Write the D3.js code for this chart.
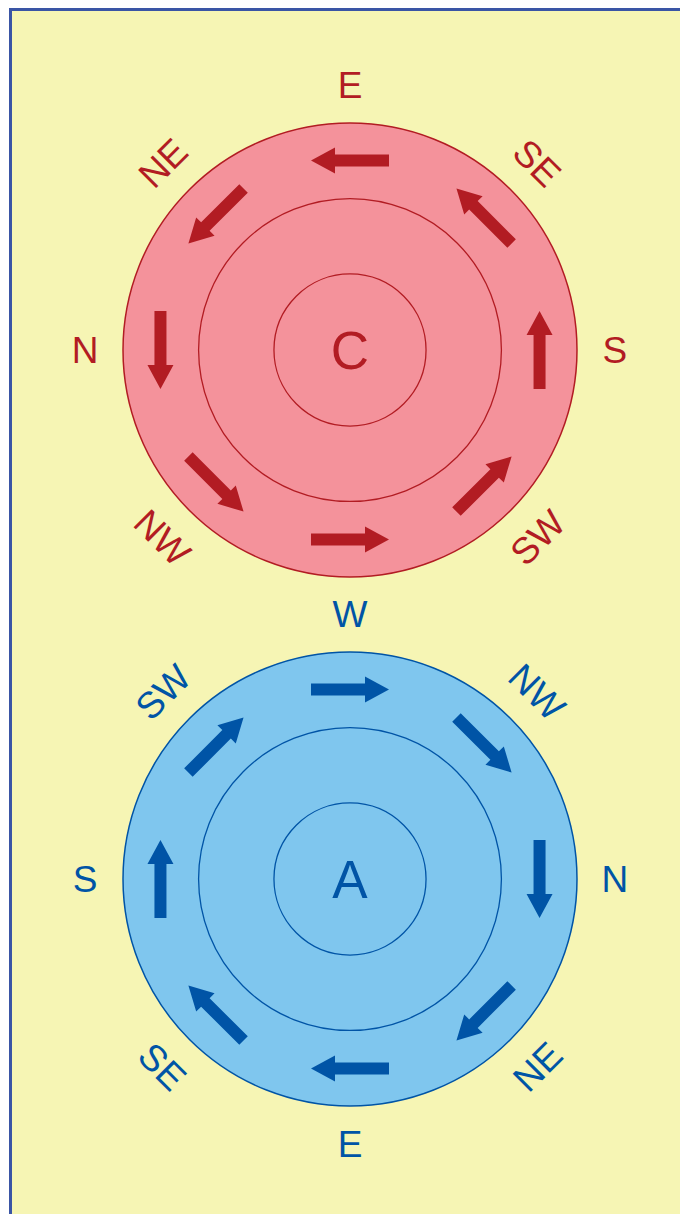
<!DOCTYPE html>
<html>
<head>
<meta charset="utf-8">
<script src="https://cdn.jsdelivr.net/npm/d3@7"></script>
<style>
  body { margin: 0; background: #fff; }
  svg { display: block; }
  text { font-family: "Liberation Sans", Arial, sans-serif; }
</style>
</head>
<body>
<div class="vizHolder"></div>
<script>
var width = 680,
    height = 1214;

// circle names and their compass labels, clockwise from the top (null = no label)
var systems = ["C", "A"];
var redLabels = ["E", "SE", "S", "SW", null, "NW", "N", "NE"];
var blueLabels = ["W", "NW", "N", "NE", "E", "SE", "S", "SW"];
// arrow slots, clockwise from the top; flow direction -1 = anticlockwise, 1 = clockwise
var arrowSlots = [0, 1, 2, 3, 4, 5, 6, 7];
var flow = [-1, 1];
// ring radii as fractions of the outer ring
var rings = [1, 0.667, 0.335];

var styles = [
  {fill: "#f4929b", dark: "#b21c23", labels: redLabels, cy: 350},
  {fill: "#7fc6ee", dark: "#0054a6", labels: blueLabels, cy: 879}
];

var svg = d3.select('.vizHolder')
            .append('svg')
            .attr('width', width)
            .attr('height', height);

// background + frame
svg.append('rect')
   .attr('x', 10).attr('y', 9)
   .attr('width', width - 10).attr('height', height - 9)
   .attr('fill', '#f6f5b4');
svg.append('path')
   .attr('d', 'M10.5,' + height + 'V9.5H' + width)
   .attr('fill', 'none')
   .attr('stroke', '#3a55a5')
   .attr('stroke-width', 3);

var angle = d3.scaleLinear().domain([0, 8]).range([0, 360]);
var radius = d3.scaleLinear().domain([0, 1]).range([0, 227]);

function polar(deg, r) {
  var a = deg * Math.PI / 180;
  return [r * Math.sin(a), -r * Math.cos(a)];
}

// arrow pointing right, centred on the origin
var arrowShape = d3.line()([[-39, -6], [15, -6], [15, -13], [39, 0], [15, 13], [15, 6], [-39, 6]]) + 'Z';

systems.forEach(function(name, i) {
  var st = styles[i];
  var g = svg.append('g').attr('transform', 'translate(350,' + st.cy + ')');

  g.selectAll('circle.ring')
   .data(rings)
   .enter().append('circle')
   .attr('class', 'ring')
   .attr('r', function(d){ return radius(d); })
   .attr('fill', function(d, j){ return j == 0 ? st.fill : 'none'; })
   .attr('stroke', st.dark)
   .attr('stroke-width', function(d, j){ return j == 0 ? 1.5 : 1.3; });

  g.append('text')
   .attr('text-anchor', 'middle')
   .attr('dy', '0.36em')
   .attr('font-size', 53)
   .attr('fill', st.dark)
   .text(name);

  g.selectAll('path.arrow')
   .data(arrowSlots)
   .enter().append('path')
   .attr('class', 'arrow')
   .attr('d', arrowShape)
   .attr('fill', st.dark)
   .attr('transform', function(d){
     var a = angle(d), p = polar(a, radius(0.835));
     // tangent direction: clockwise heading = a (0 = pointing right at the top)
     var rot = flow[i] > 0 ? a : a + 180;
     return 'translate(' + p[0] + ',' + p[1] + ') rotate(' + rot + ')';
   });

  g.selectAll('text.dir')
   .data(st.labels.map(function(l, k){ return {label: l, k: k}; })
                  .filter(function(d){ return d.label; }))
   .enter().append('text')
   .attr('class', 'dir')
   .attr('text-anchor', 'middle')
   .attr('dy', '0.36em')
   .attr('font-size', 37)
   .attr('fill', st.dark)
   .attr('transform', function(d){
     var a = angle(d.k), p = polar(a, radius(1.167));
     var rot = (d.k % 2) ? (a % 180 == 45 ? 45 : -45) : 0;
     return 'translate(' + p[0] + ',' + p[1] + ') rotate(' + rot + ')';
   })
   .text(function(d){ return d.label; });
});

// the blue circle's top label sits between both circles, drawn in blue
</script>
</body>
</html>
